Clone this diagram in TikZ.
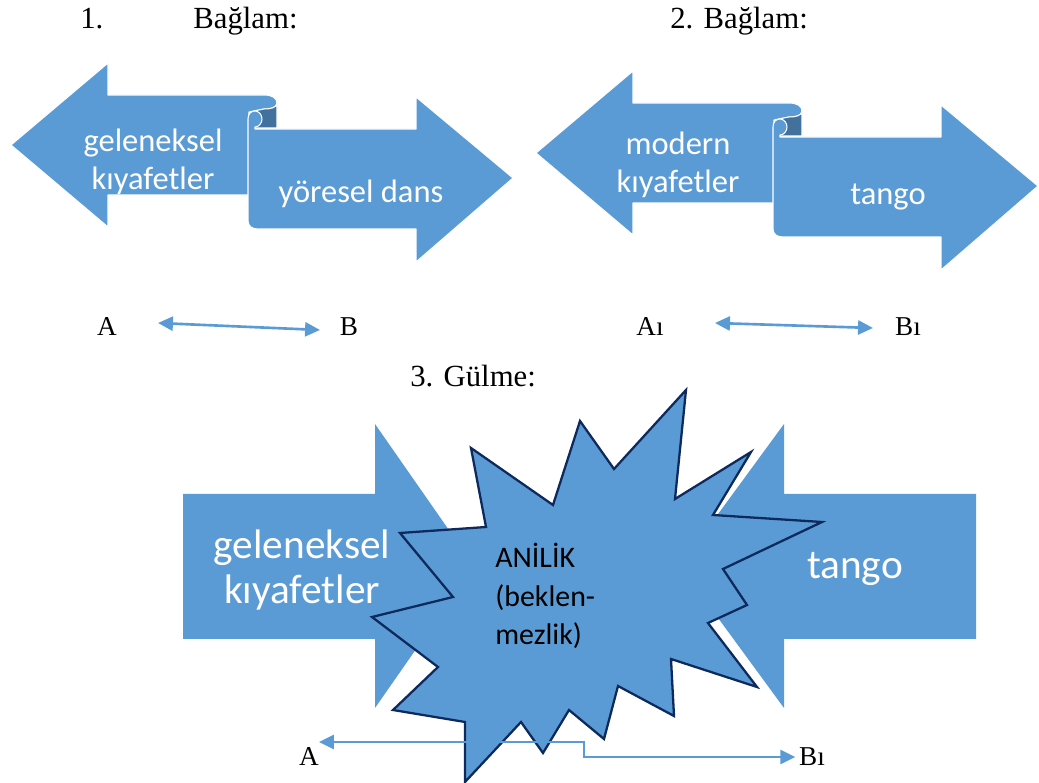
\documentclass[tikz,border=0pt]{standalone}
\usepackage{fontspec}
\setmainfont{Liberation Serif}
\newfontfamily\calibri{Carlito}
\usetikzlibrary{arrows.meta,positioning}
\definecolor{arrblue}{HTML}{5B9BD5}
\definecolor{folddark}{HTML}{41719C}
\definecolor{starline}{HTML}{0E2A5C}

\begin{document}
\begin{tikzpicture}[
  x=0.02cm, y=-0.02cm,
  ribbon/.style={fill=arrblue, draw=white, line width=0.6pt, line join=round},
  fold/.style={fill=folddark, draw=white, line width=0.6pt},
  bigarrow/.style={fill=arrblue},
  burst/.style={fill=arrblue, draw=starline, line width=1.3pt},
  boxtext/.style={text=white, align=center, inner sep=0pt, font=\calibri\fontsize{18.5}{21.5}\selectfont},
  bigtext/.style={text=white, align=center, inner sep=0pt, font=\calibri\fontsize{23.5}{25.5}\selectfont},
  bursttext/.style={align=left, inner sep=0pt, font=\calibri\fontsize{17}{22}\selectfont},
  heading/.style={anchor=base west, inner sep=0pt, font=\fontsize{17.5}{20}\selectfont},
  letter/.style={inner sep=2pt, font=\fontsize{15.5}{18}\selectfont},
  pair/.style={arrblue, line width=1.5pt, {Triangle[length=8.5pt,width=8pt]}-{Triangle[length=8.5pt,width=8pt]}},
  link/.style={arrblue, line width=1.4pt, {Triangle[length=8.5pt,width=8pt]}-{Triangle[length=8.5pt,width=8pt]}}
]
\useasboundingbox (0,0) rectangle (1039,783);

% headings
\node[heading] (h1) at (80,29) {1.};
\node[heading] (h1b) at (193,29) {Bağlam:};
\node[heading] (h2) at (670,29) {2. Bağlam:};
\node[heading] (h3) at (410,387) {3. Gülme:};

% the two ribbons
\foreach \dx/\dy in {0/0, 525/8} {
  \begin{scope}[shift={(\dx,\dy)}]
    \draw[ribbon] (11,145) -- (108,63) -- (108,95) -- (264,95)
      .. controls (272,95) and (277,98) .. (277,103)
      .. controls (277,108) and (270,109) .. (264,109)
      -- (249,112) -- (249,195) -- (108,195) -- (108,227) -- cycle;
    \draw[fold] (277,103) .. controls (277,108) and (270,109) .. (264,109)
      -- (254,111) -- (254,128) -- (277,128) -- cycle;
    \draw[ribbon] (255,129) -- (416,129) -- (416,97) -- (513,178)
      -- (416,262) -- (416,229) -- (258,229)
      .. controls (252,229) and (248,226) .. (248,221) -- (248,119)
      .. controls (248,114) and (251,111) .. (255,111)
      .. controls (259,111) and (262,115) .. (262,119)
      .. controls (262,123) and (259,127) .. (255,127) -- cycle;
  \end{scope}
}
\node[boxtext] (old1) at (153,162) {geleneksel\\kıyafetler};
\node[boxtext] (folk) at (361,194) {yöresel dans};
\node[boxtext] (new1) at (678,165) {modern\\kıyafetler};
\node[boxtext] (tango1) at (888,197) {tango};

% A - B rows
\node[letter] (A) at (107,327) {A};
\node[letter] (B) at (349,327) {B};
\node[letter] (A1) at (650,327) {Aı};
\node[letter] (B1) at (908,327) {Bı};
\coordinate (pa) at (158,323);
\coordinate (pb) at (320,330);
\coordinate (pa1) at (715,323);
\coordinate (pb1) at (873,328);
\draw[pair] (pa) -- (pb);
\draw[pair] (pa1) -- (pb1);

% laughter
\fill[bigarrow] (183,494) -- (375,494) -- (375,424) -- (474,566)
  -- (375,708) -- (375,639) -- (183,639) -- cycle;
\fill[bigarrow] (976,494) -- (784,494) -- (784,424) -- (680,566)
  -- (784,708) -- (784,639) -- (976,639) -- cycle;
\draw[burst] (471,448) -- (553,505) -- (580,421) -- (614,469) -- (686,390)
  -- (675,499) -- (751,452) -- (713,515) -- (822,522) -- (723,569)
  -- (747,605) -- (708,623) -- (757,687) -- (671,659) -- (674,716)
  -- (618,686) -- (604,739) -- (569,710) -- (543,753) -- (521,722)
  -- (465,782) -- (465,722) -- (393,710) -- (438,667) -- (372,617)
  -- (453,597) -- (400,533) -- (486,527) -- cycle;
\node[bigtext] (old3) at (302,570) {geleneksel\\kıyafetler};
\node[bigtext] (tango3) at (855,569) {tango};
\node[bursttext, anchor=west] (fun) at (495,596) {ANİLİK\\(beklen-\\mezlik)};

\node[letter] (gA) at (309,757) {A};
\node[letter] (gB) at (812,757) {Bı};
\coordinate (tipA) at (319,742);
\coordinate (bend) at (584,742);
\draw[link] (tipA) -- (bend) |- (gB);
\end{tikzpicture}
\end{document}
